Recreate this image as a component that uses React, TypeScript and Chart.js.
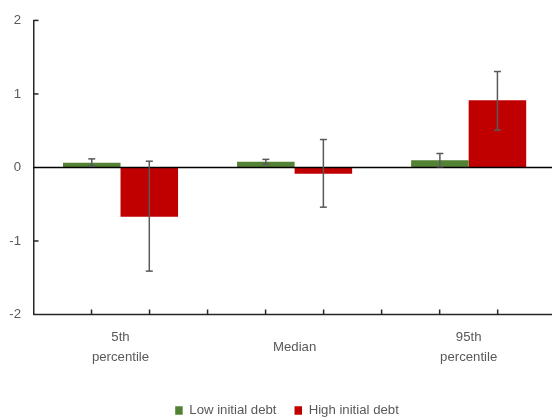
import React, { useEffect, useRef } from "react";
import { Chart, registerables } from "chart.js";

Chart.register(...registerables);

const categories: (string | string[])[] = [["5th", "percentile"], "Median", ["95th", "percentile"]];
const seriesNames = ["Low initial debt", "High initial debt"];
const lowDebt = [0.063, 0.077, 0.098];
const highDebt = [-0.67, -0.085, 0.915];
const lowDebtLower = [0.02, 0.045, 0.01];
const lowDebtUpper = [0.117, 0.11, 0.19];
const highDebtLower = [-1.41, -0.54, 0.507];
const highDebtUpper = [0.085, 0.38, 1.305];
const yTicks = [-2, -1, 0, 1, 2];

const errorLower = [lowDebtLower, highDebtLower];
const errorUpper = [lowDebtUpper, highDebtUpper];

const W = 574;
const H = 427;

const decorPlugin = {
  id: "decor",
  afterDatasetsDraw(chart: any) {
    const { ctx, chartArea, scales } = chart;
    const xs = scales.x;
    const ys = scales.y;
    const left = chartArea.left;
    const right = chart.width;
    const line = (x1: number, y1: number, x2: number, y2: number) => {
      ctx.beginPath();
      ctx.moveTo(x1, y1);
      ctx.lineTo(x2, y2);
      ctx.stroke();
    };
    ctx.save();
    // zero line
    ctx.strokeStyle = "#000000";
    ctx.lineWidth = 1.5;
    const y0 = ys.getPixelForValue(0);
    line(left, y0, right, y0);
    // bottom axis
    ctx.strokeStyle = "#262626";
    const yb = ys.getPixelForValue(yTicks[0]);
    line(left, yb, right, yb);
    const step = (xs.getPixelForValue(1) - xs.getPixelForValue(0)) / 3;
    for (let px = left + step; px <= right + 0.5; px += step) {
      line(px, yb - 5, px, yb);
    }
    // y tick marks inside
    yTicks.forEach((v) => {
      if (v === 0 || v === yTicks[0]) return;
      const py = ys.getPixelForValue(v);
      line(left, py, left + 5, py);
    });
    // error bars
    ctx.strokeStyle = "#595959";
    ctx.lineWidth = 1.5;
    chart.data.datasets.forEach((_: any, i: number) => {
      const meta = chart.getDatasetMeta(i);
      meta.data.forEach((bar: any, j: number) => {
        const x = bar.x;
        const yl = ys.getPixelForValue(errorLower[i][j]);
        const yu = ys.getPixelForValue(errorUpper[i][j]);
        line(x, yl, x, yu);
        line(x - 3.5, yl, x + 3.5, yl);
        line(x - 3.5, yu, x + 3.5, yu);
      });
    });
    ctx.restore();
  },
};

export default function App() {
  const ref = useRef<HTMLCanvasElement>(null);
  useEffect(() => {
    if (!ref.current) return;
    document.body.style.overflow = "hidden";
    const font = { family: "'Liberation Sans', Arial, sans-serif", size: 13.2 };
    const chart = new Chart(ref.current, {
      type: "bar",
      data: {
        labels: categories as any,
        datasets: [
          {
            label: seriesNames[0],
            data: lowDebt,
            backgroundColor: "#548235",
            categoryPercentage: 0.661,
            barPercentage: 1,
          },
          {
            label: seriesNames[1],
            data: highDebt,
            backgroundColor: "#C00000",
            categoryPercentage: 0.661,
            barPercentage: 1,
          },
        ],
      },
      options: {
        responsive: false,
        devicePixelRatio: 1,
        animation: false,
        layout: { padding: { top: 17.5, right: 0, left: 0, bottom: 0 } },
        plugins: {
          tooltip: { enabled: false },
          legend: {
            position: "bottom",
            align: "center",
            labels: {
              boxWidth: 7.5,
              boxHeight: 8.5,
              padding: 18,
              color: "#595959",
              font,
            },
          },
        },
        scales: {
          x: {
            grid: { display: false, drawTicks: false },
            border: { display: false },
            ticks: {
              color: "#595959",
              font: { ...font, lineHeight: 1.515 },
              padding: 23.2,
              maxRotation: 0,
              minRotation: 0,
              crossAlign: "center",
            },
            afterFit: (s: any) => {
              s.height = 71.3;
            },
          },
          y: {
            min: yTicks[0],
            max: yTicks[yTicks.length - 1],
            grid: { display: false, drawTicks: false },
            border: { display: true, color: "#262626", width: 1.5 },
            ticks: {
              stepSize: 1,
              color: "#595959",
              font,
              padding: 12.5,
            },
            afterFit: (s: any) => {
              s.width = 33.5;
            },
          },
          yRight: {
            type: "linear",
            position: "right",
            display: true,
            grid: { display: false, drawTicks: false },
            border: { display: false },
            ticks: { display: false },
            afterFit: (s: any) => {
              s.width = W - 555.7;
            },
          },
        },
      },
      plugins: [decorPlugin],
    } as any);
    return () => chart.destroy();
  }, []);
  return (
    <canvas
      ref={ref}
      width={W}
      height={H}
      style={{ position: "fixed", left: 0, top: 0, width: W, height: H, display: "block" }}
    />
  );
}
